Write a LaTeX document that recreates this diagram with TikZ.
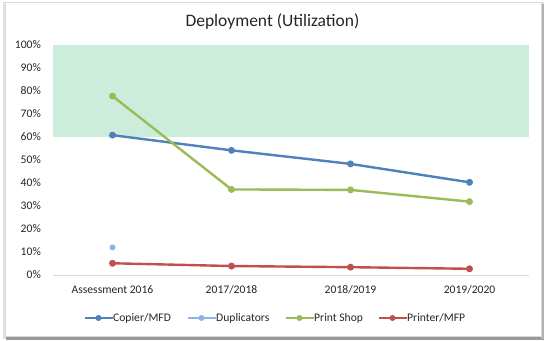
\documentclass[tikz,border=0pt]{standalone}
\usepackage{fontspec}
\setmainfont{Carlito}
\usepackage{xcolor}
\usepackage{tikz}

\definecolor{copier}{HTML}{4F81BD}
\definecolor{dupl}{HTML}{8EB4E3}
\definecolor{printshop}{HTML}{9BBB59}
\definecolor{printer}{HTML}{C0504D}
\definecolor{target}{RGB}{204,237,220}
\definecolor{axisgray}{HTML}{D9D9D9}

\begin{document}
\begin{tikzpicture}[x=1pt,y=1pt]
\tikzstyle{every node}+=[inner sep=0pt]
\tikzstyle{small}=[font=\fontsize{11.6}{13}\selectfont,text=black!85]
\tikzstyle{tick}=[small,anchor=east]
\tikzstyle{cat}=[small]
\tikzstyle{legtext}=[small,anchor=west]
\tikzstyle{dot}=[circle,minimum size=7pt]
\tikzstyle{legdot}=[circle,minimum size=6pt]
\tikzstyle{series}=[line width=2.4pt,line join=round]
\useasboundingbox (0,0) rectangle (545,340);
% frame and its shadow
\fill [black!12] (3,1) rectangle (543.5,338);
\fill [black!40] (6,0.5) rectangle (543.5,3.5);
\fill [black!30] (541,1) rectangle (543.5,336);
\filldraw [draw=black!15,fill=white] (5,3.5) rectangle (541,338);
\node [font=\fontsize{17.5}{20}\selectfont,text=black!85] (title) at (272.5,318) {Deployment (Utilization)};

\begin{scope}[shift={(53,65)},x=119pt,y=2.3pt]
\fill [target] (0,60) rectangle (4,100);
\draw [axisgray,line width=1pt] (0,0) -- (4,0);
\node [tick] (y0) at ([xshift=-12pt]0,0) {0\%};
\node [tick] (y10) at ([xshift=-12pt]0,10) {10\%};
\node [tick] (y20) at ([xshift=-12pt]0,20) {20\%};
\node [tick] (y30) at ([xshift=-12pt]0,30) {30\%};
\node [tick] (y40) at ([xshift=-12pt]0,40) {40\%};
\node [tick] (y50) at ([xshift=-12pt]0,50) {50\%};
\node [tick] (y60) at ([xshift=-12pt]0,60) {60\%};
\node [tick] (y70) at ([xshift=-12pt]0,70) {70\%};
\node [tick] (y80) at ([xshift=-12pt]0,80) {80\%};
\node [tick] (y90) at ([xshift=-12pt]0,90) {90\%};
\node [tick] (y100) at ([xshift=-12pt]0,100) {100\%};
\node [cat] (k1) at (0.5,-6.5) {Assessment 2016};
\node [cat] (k2) at (1.5,-6.5) {2017/2018};
\node [cat] (k3) at (2.5,-6.5) {2018/2019};
\node [cat] (k4) at (3.5,-6.5) {2019/2020};

% Copier/MFD
\node [dot,fill=copier] (cop1) at (0.5,60.8) {};
\node [dot,fill=copier] (cop2) at (1.5,54.2) {};
\node [dot,fill=copier] (cop3) at (2.5,48.3) {};
\node [dot,fill=copier] (cop4) at (3.5,40.3) {};
\draw [series,copier] (cop1.center) -- (cop2.center) -- (cop3.center) -- (cop4.center);
% Duplicators
\node [legdot,fill=dupl] (dup1) at (0.5,12) {};
% Print Shop
\node [dot,fill=printshop] (shop1) at (0.5,77.8) {};
\node [dot,fill=printshop] (shop2) at (1.5,37.2) {};
\node [dot,fill=printshop] (shop3) at (2.5,37) {};
\node [dot,fill=printshop] (shop4) at (3.5,31.9) {};
\draw [series,printshop] (shop1.center) -- (shop2.center) -- (shop3.center) -- (shop4.center);
% Printer/MFP
\node [dot,fill=printer] (prn1) at (0.5,5.1) {};
\node [dot,fill=printer] (prn2) at (1.5,3.9) {};
\node [dot,fill=printer] (prn3) at (2.5,3.4) {};
\node [dot,fill=printer] (prn4) at (3.5,2.7) {};
\draw [series,printer] (prn1.center) -- (prn2.center) -- (prn3.center) -- (prn4.center);
\end{scope}

% legend
\coordinate (lcop) at (85,22);
\node [legdot,fill=copier] (lcopdot) at (98.5,22) {};
\node [legtext] (lcoptext) at (113,22) {Copier/MFD};
\draw [series,copier] (lcop) -- (lcoptext.west);
\coordinate (ldup) at (188,22);
\node [legdot,fill=dupl] (ldupdot) at (201.5,22) {};
\node [legtext] (lduptext) at (216,22) {Duplicators};
\draw [series,dupl] (ldup) -- (lduptext.west);
\coordinate (lshop) at (286,22);
\node [legdot,fill=printshop] (lshopdot) at (299.5,22) {};
\node [legtext] (lshoptext) at (314,22) {Print Shop};
\draw [series,printshop] (lshop) -- (lshoptext.west);
\coordinate (lprn) at (379,22);
\node [legdot,fill=printer] (lprndot) at (392.5,22) {};
\node [legtext] (lprntext) at (407,22) {Printer/MFP};
\draw [series,printer] (lprn) -- (lprntext.west);
\end{tikzpicture}
\end{document}
